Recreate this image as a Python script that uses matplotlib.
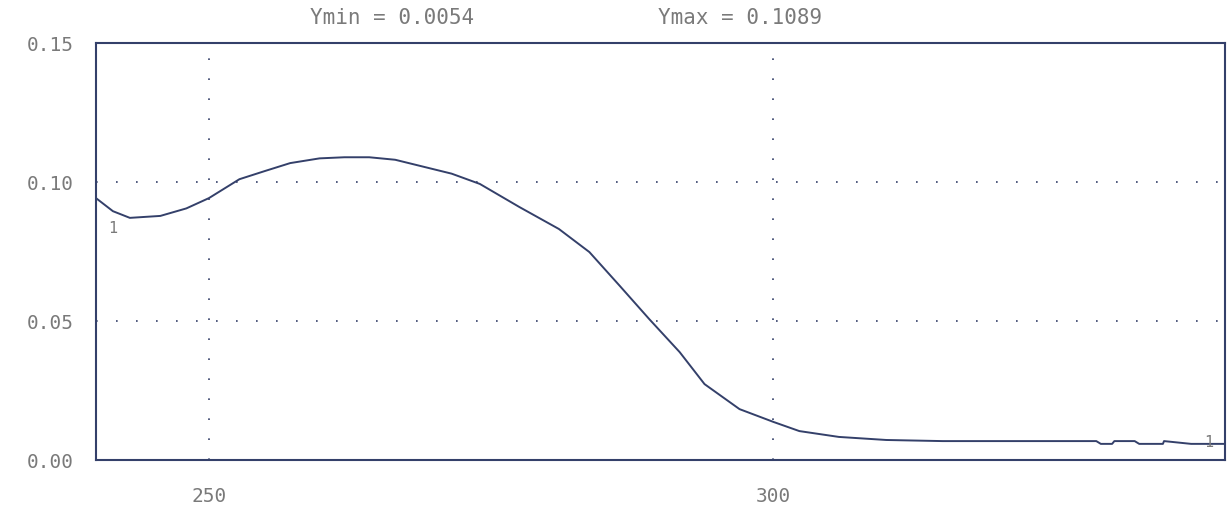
import numpy as np
import matplotlib.pyplot as plt

# spectrum
wavelength = [240.0, 241.5, 243.0, 245.7, 248.0, 250.0, 252.7, 255.0, 257.2, 259.8,
              262.0, 264.2, 266.5, 268.7, 271.5, 274.0, 277.5, 281.0, 283.7, 286.4,
              289.0, 291.7, 293.9, 297.0, 300.0, 302.3, 305.8, 310.0, 315.0, 320.0,
              325.0, 328.6, 329.0, 330.0, 330.2, 332.0, 332.4, 334.5, 334.6, 337.0, 340.0]
absorbance = [0.0942, 0.0895, 0.0871, 0.0878, 0.0905, 0.0942, 0.1010, 0.1040, 0.1068, 0.1085,
              0.1089, 0.1089, 0.1080, 0.1058, 0.1030, 0.0993, 0.0910, 0.0831, 0.0748, 0.0626,
              0.0507, 0.0388, 0.0273, 0.0183, 0.0137, 0.0104, 0.0083, 0.0072, 0.0068, 0.0068,
              0.0068, 0.0068, 0.0058, 0.0058, 0.0068, 0.0068, 0.0058, 0.0058, 0.0068, 0.0058, 0.0058]

x_ticks = [250, 300]
y_ticks = [0.00, 0.05, 0.10, 0.15]
y_min_txt = "Ymin = 0.0054"
y_max_txt = "Ymax = 0.1089"

ink = "#34406a"
txt = "#7a7a7a"
mono = ["DejaVu Sans Mono"]

fig = plt.figure(figsize=(12.31, 5.06), dpi=100)
ax = fig.add_axes([96 / 1231, 1 - 461 / 506, (1225 - 96) / 1231, (461 - 44) / 506])

ax.plot(wavelength, absorbance, color=ink, lw=1.4)

ax.set_xlim(240, 340)
ax.set_ylim(0, 0.15)

# dotted grid like the plotter output
for xv in x_ticks:
    ax.axvline(xv, color=ink, lw=1.2, dashes=(1, 11), zorder=0)
for yv in [0.05, 0.10]:
    ax.axhline(yv, color=ink, lw=1.2, dashes=(1, 11), zorder=0)

ax.set_xticks(x_ticks)
ax.set_xticklabels([str(v) for v in x_ticks], family=mono, fontsize=14, color=txt)
ax.set_yticks(y_ticks)
ax.set_yticklabels(["%.2f" % v for v in y_ticks], family=mono, fontsize=14, color=txt)
ax.tick_params(axis="x", length=0, pad=19)
ax.tick_params(axis="y", length=0, pad=16)

for side in ["left", "bottom", "top", "right"]:
    ax.spines[side].set_color(ink)
    ax.spines[side].set_linewidth(1.5)

# trace number labels
ax.text(241.5, 0.0835, "1", family=mono, fontsize=11, color=txt, ha="center", va="center")
ax.text(338.6, 0.0068, "1", family=mono, fontsize=11, color=txt, ha="center", va="center")

fig.text(392 / 1231, 1 - 18 / 506, y_min_txt, family=mono, fontsize=15, color=txt, ha="center", va="center")
fig.text(740 / 1231, 1 - 18 / 506, y_max_txt, family=mono, fontsize=15, color=txt, ha="center", va="center")

fig.savefig("out.png", dpi=100, facecolor="white")
